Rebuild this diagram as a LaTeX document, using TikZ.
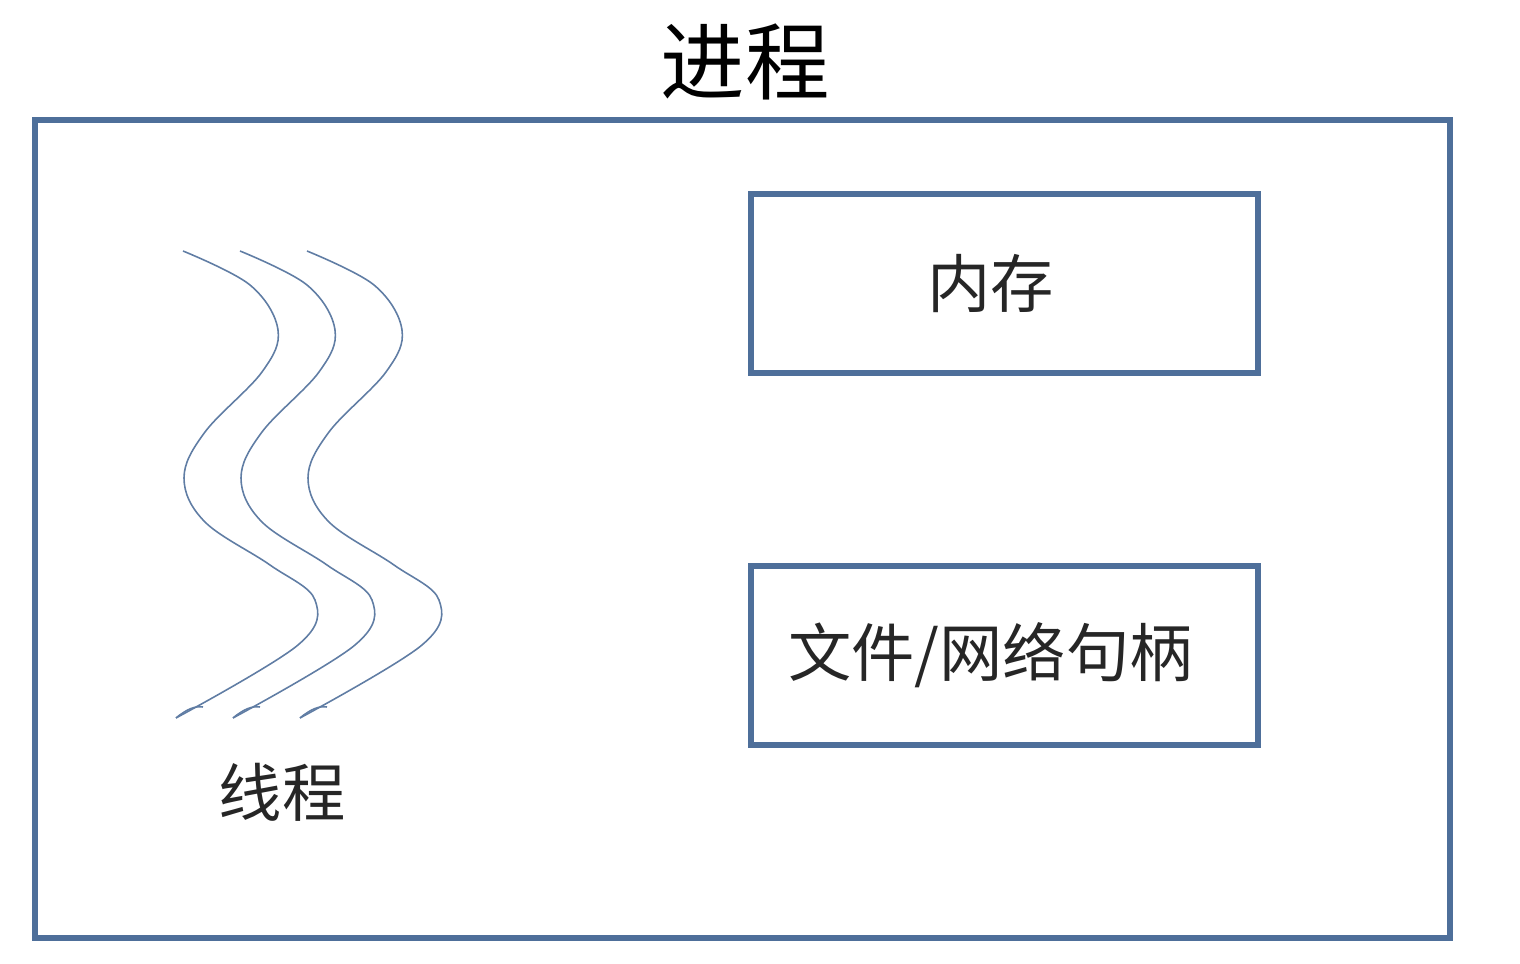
\documentclass[tikz,border=0pt]{standalone}
\usepackage{fontspec}
\newfontfamily\cjk{Noto Sans CJK SC}
\definecolor{bl}{HTML}{4E6F9A}
\begin{document}
\begin{tikzpicture}[x=0.01cm,y=-0.01cm,
  box/.style={draw=bl,line width=1.6pt},
  thr/.style={draw=bl!90,line width=0.45pt},
  lbl/.style={font=\cjk\fontsize{18}{21}\selectfont,text=black!85}]
\useasboundingbox (0,0) rectangle (1520,964);
\draw[box] (35,120) rectangle (1450,938);
\node[font=\cjk\fontsize{24}{28}\selectfont] (title) at (745,62) {进程};
\node[box,minimum width=507*0.01cm,minimum height=179*0.01cm] (mem) at (1004.5,283.5) {};
\node[lbl] at ([xshift=-0.14cm]mem.center) {内存};
\node[box,minimum width=507*0.01cm,minimum height=179*0.01cm] (file) at (1004.5,655.5) {};
\node[lbl] at ([xshift=-0.14cm]file.center) {文件/网络句柄};
\node[lbl] (thl) at (282,792) {线程};
\foreach \dx in {0,57,124}{
  \begin{scope}[xshift=\dx*0.01cm]
  \draw[thr] plot[smooth,tension=0.6] coordinates {(183,251) (250,285) (278,330) (262,372) (205,432) (184,478) (205,522) (270,565) (315,600) (298,645) (176,718)};
  \draw[thr] (176,718) .. controls (188,708) and (196,706) .. (203,707);
  \end{scope}}
\end{tikzpicture}
\end{document}
